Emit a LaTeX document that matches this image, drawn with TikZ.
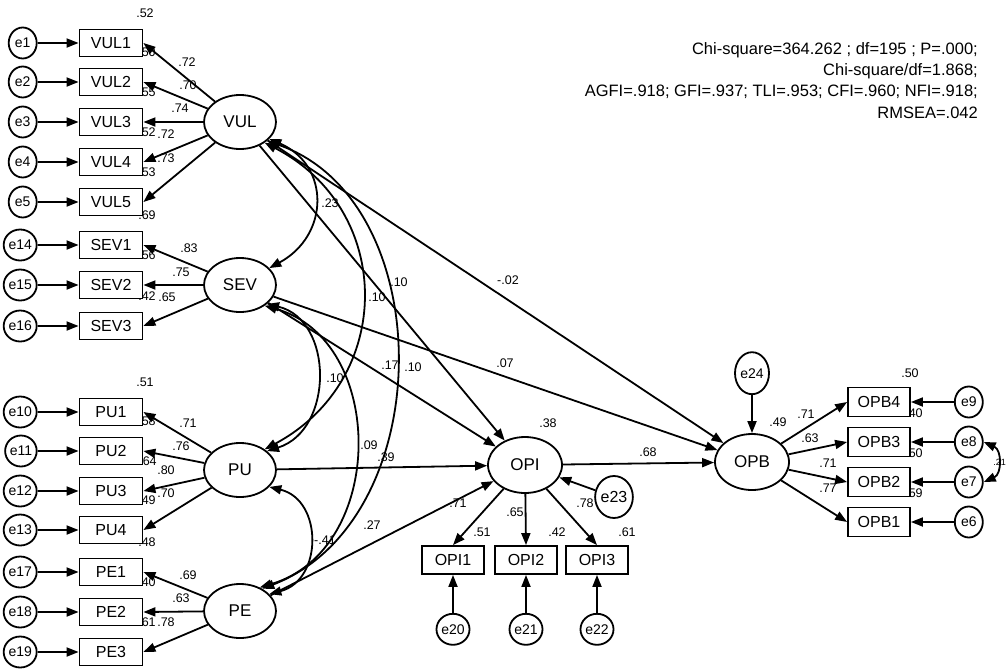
\documentclass[tikz,border=0pt]{standalone}
\usepackage{fontspec}
\setmainfont{Liberation Sans}
\usetikzlibrary{arrows.meta,positioning,shapes.geometric}

\begin{document}
\begin{tikzpicture}[
  x=1pt, y=-1pt,
  lat/.style={draw, ellipse, line width=1.8pt, minimum width=72pt, minimum height=54pt, inner sep=0pt, fill=white, font=\fontsize{17}{17}\selectfont},
  obs/.style={draw, rectangle, line width=1.8pt, minimum width=63pt, minimum height=27pt, inner sep=0pt, fill=white, font=\fontsize{16}{16}\selectfont},
  err/.style={draw, ellipse, line width=1.8pt, minimum width=28pt, minimum height=31pt, inner sep=0pt, fill=white, font=\fontsize{14}{14}\selectfont},
  coef/.style={inner sep=0pt, font=\fontsize{12.5}{12.5}\selectfont},
  gof/.style={anchor=east, inner sep=0pt, font=\fontsize{16.5}{16.5}\selectfont},
  arrow/.style={-{Triangle[length=12pt,width=9pt]}, line width=1.8pt},
  cov/.style={{Triangle[length=12pt,width=9pt]}-{Triangle[length=12pt,width=9pt]}, line width=1.8pt}
]
\useasboundingbox (0,0) rectangle (1007,670);

% fit indices
\node[gof] (gof1) at (978,50) {Chi-square=364.262 ; df=195 ; P=.000;};
\node[gof] (gof2) at (978,71) {Chi-square/df=1.868;};
\node[gof] (gof3) at (978,92) {AGFI=.918; GFI=.937; TLI=.953; CFI=.960; NFI=.918;};
\node[gof] (gof4) at (978,113) {RMSEA=.042};

% squared multiple correlations (partly hidden under the boxes)
\node[coef] (r2vul1) at (145,13) {.52};
\node[coef] (r2vul2) at (147,52) {.50};
\node[coef] (r2vul3) at (147,92) {.55};
\node[coef] (r2vul4) at (147,132) {.52};
\node[coef] (r2vul5) at (147,172) {.53};
\node[coef] (r2sev1) at (147,215) {.69};
\node[coef] (r2sev2) at (147,255) {.56};
\node[coef] (r2sev3) at (147,296) {.42};
\node[coef] (r2pu1) at (145,382) {.51};
\node[coef] (r2pu2) at (147,421) {.58};
\node[coef] (r2pu3) at (148,461) {.64};
\node[coef] (r2pu4) at (147,500) {.49};
\node[coef] (r2pe1) at (147,542) {.48};
\node[coef] (r2pe2) at (147,582) {.40};
\node[coef] (r2pe3) at (147,622) {.61};
\node[coef] (r2opi) at (548,423) {.38};
\node[coef] (r2opi1) at (482,532) {.51};
\node[coef] (r2opi2) at (557,532) {.42};
\node[coef] (r2opi3) at (627,532) {.61};
\node[coef] (r2opb) at (778,422) {.49};
\node[coef] (r2opb4) at (910,373) {.50};
\node[coef] (r2opb3) at (914,413) {.40};
\node[coef] (r2opb2) at (914,453) {.50};
\node[coef] (r2opb1) at (914,493) {.59};

% loadings
\node[coef] (ldvul1) at (187,62) {.72};
\node[coef] (ldvul2) at (188,85) {.70};
\node[coef] (ldvul3) at (180,108) {.74};
\node[coef] (ldvul4) at (166,134) {.72};
\node[coef] (ldvul5) at (166,158) {.73};
\node[coef] (ldsev1) at (189,248) {.83};
\node[coef] (ldsev2) at (181,272) {.75};
\node[coef] (ldsev3) at (167,297) {.65};
\node[coef] (ldpu1) at (188,423) {.71};
\node[coef] (ldpu2) at (181,446) {.76};
\node[coef] (ldpu3) at (166,470) {.80};
\node[coef] (ldpu4) at (166,493) {.70};
\node[coef] (ldpe1) at (188,575) {.69};
\node[coef] (ldpe2) at (181,598) {.63};
\node[coef] (ldpe3) at (166,622) {.78};
\node[coef] (ldopi1) at (458,503) {.71};
\node[coef] (ldopi2) at (515,512) {.65};
\node[coef] (ldopi3) at (585,503) {.78};
\node[coef] (ldopb4) at (806,414) {.71};
\node[coef] (ldopb3) at (810,438) {.63};
\node[coef] (ldopb2) at (828,463) {.71};
\node[coef] (ldopb1) at (828,488) {.77};

% structural paths and correlations
\node[coef] (cvs) at (330,203) {.23};
\node[coef] (cvp) at (377,297) {.10};
\node[coef] (cve) at (399,282) {.10};
\node[coef] (csp) at (335,378) {.10};
\node[coef] (cse) at (369,445) {.09};
\node[coef] (cpe) at (325,540) {-.41};
\node[coef] (pvi) at (413,367) {.10};
\node[coef] (pvb) at (508,280) {-.02};
\node[coef] (psi) at (390,365) {.17};
\node[coef] (psb) at (505,363) {.07};
\node[coef] (pui) at (386,457) {.39};
\node[coef] (pei) at (372,525) {.27};
\node[coef] (pib) at (648,452) {.68};
\node[coef, anchor=east, font=\fontsize{9}{9}\selectfont] (ce78) at (1006,462) {.21};

% latent variables
\node[lat] (vul) at (240,122) {VUL};
\node[lat] (sev) at (240,285) {SEV};
\node[lat] (pu) at (240,470) {PU};
\node[lat] (pe) at (240,611) {PE};
\node[lat, minimum width=74pt, minimum height=56pt] (opi) at (525,465) {OPI};
\node[lat, minimum width=74pt, minimum height=56pt] (opb) at (752,462) {OPB};

% indicators
\node[obs] (vul1) at (111,43) {VUL1};
\node[obs] (vul2) at (111,82) {VUL2};
\node[obs] (vul3) at (111,122) {VUL3};
\node[obs] (vul4) at (111,162) {VUL4};
\node[obs] (vul5) at (111,202) {VUL5};
\node[obs] (sev1) at (111,245) {SEV1};
\node[obs] (sev2) at (111,285) {SEV2};
\node[obs] (sev3) at (111,326) {SEV3};
\node[obs] (pu1) at (111,412) {PU1};
\node[obs] (pu2) at (111,451) {PU2};
\node[obs] (pu3) at (111,491) {PU3};
\node[obs] (pu4) at (111,530) {PU4};
\node[obs] (pe1) at (111,572) {PE1};
\node[obs] (pe2) at (111,612) {PE2};
\node[obs] (pe3) at (111,652) {PE3};
\node[obs, minimum width=62pt, minimum height=28pt] (opi1) at (453,560) {OPI1};
\node[obs, minimum width=62pt, minimum height=28pt] (opi2) at (526,560) {OPI2};
\node[obs, minimum width=62pt, minimum height=28pt] (opi3) at (597,560) {OPI3};
\node[obs, minimum width=62pt, minimum height=29pt] (opb4) at (879,402) {OPB4};
\node[obs, minimum width=62pt, minimum height=29pt] (opb3) at (879,442) {OPB3};
\node[obs, minimum width=62pt, minimum height=29pt] (opb2) at (879,482) {OPB2};
\node[obs, minimum width=62pt, minimum height=29pt] (opb1) at (879,522) {OPB1};

% error terms
\node[err, left=41pt of vul1] (e1) {e1};
\node[err, left=41pt of vul2] (e2) {e2};
\node[err, left=41pt of vul3] (e3) {e3};
\node[err, left=41pt of vul4] (e4) {e4};
\node[err, left=41pt of vul5] (e5) {e5};
\node[err, left=41pt of sev1] (e14) {e14};
\node[err, left=41pt of sev2] (e15) {e15};
\node[err, left=41pt of sev3] (e16) {e16};
\node[err, left=41pt of pu1] (e10) {e10};
\node[err, left=41pt of pu2] (e11) {e11};
\node[err, left=41pt of pu3] (e12) {e12};
\node[err, left=41pt of pu4] (e13) {e13};
\node[err, left=41pt of pe1] (e17) {e17};
\node[err, left=41pt of pe2] (e18) {e18};
\node[err, left=41pt of pe3] (e19) {e19};
\node[err, below=38pt of opi1] (e20) {e20};
\node[err, below=38pt of opi2] (e21) {e21};
\node[err, below=38pt of opi3] (e22) {e22};
\node[err, minimum width=36pt, minimum height=42pt, font=\fontsize{16}{16}\selectfont] (e23) at (614,497) {e23};
\node[err, minimum width=34pt, minimum height=42pt, above=38pt of opb] (e24) {e24};
\node[err, right=43pt of opb4] (e9) {e9};
\node[err, right=43pt of opb3] (e8) {e8};
\node[err, right=43pt of opb2] (e7) {e7};
\node[err, right=43pt of opb1] (e6) {e6};

% errors into indicators
\draw[arrow] (e1) -- (vul1);
\draw[arrow] (e2) -- (vul2);
\draw[arrow] (e3) -- (vul3);
\draw[arrow] (e4) -- (vul4);
\draw[arrow] (e5) -- (vul5);
\draw[arrow] (e14) -- (sev1);
\draw[arrow] (e15) -- (sev2);
\draw[arrow] (e16) -- (sev3);
\draw[arrow] (e10) -- (pu1);
\draw[arrow] (e11) -- (pu2);
\draw[arrow] (e12) -- (pu3);
\draw[arrow] (e13) -- (pu4);
\draw[arrow] (e17) -- (pe1);
\draw[arrow] (e18) -- (pe2);
\draw[arrow] (e19) -- (pe3);
\draw[arrow] (e20) -- (opi1);
\draw[arrow] (e21) -- (opi2);
\draw[arrow] (e22) -- (opi3);
\draw[arrow] (e9) -- (opb4);
\draw[arrow] (e8) -- (opb3);
\draw[arrow] (e7) -- (opb2);
\draw[arrow] (e6) -- (opb1);
\draw[arrow] (e23) -- (opi);
\draw[arrow] (e24) -- (opb);
\draw[cov] (e8.east) .. controls (1002,450) and (1002,474) .. (e7.east);

% latents onto indicators
\draw[arrow] (vul) -- (vul1.east);
\draw[arrow] (vul) -- (vul2.east);
\draw[arrow] (vul) -- (vul3.east);
\draw[arrow] (vul) -- (vul4.east);
\draw[arrow] (vul) -- (vul5.east);
\draw[arrow] (sev) -- (sev1.east);
\draw[arrow] (sev) -- (sev2.east);
\draw[arrow] (sev) -- (sev3.east);
\draw[arrow] (pu) -- (pu1.east);
\draw[arrow] (pu) -- (pu2.east);
\draw[arrow] (pu) -- (pu3.east);
\draw[arrow] (pu) -- (pu4.east);
\draw[arrow] (pe) -- (pe1.east);
\draw[arrow] (pe) -- (pe2.east);
\draw[arrow] (pe) -- (pe3.east);
\draw[arrow] (opi) -- (opi1.north);
\draw[arrow] (opi) -- (opi2.north);
\draw[arrow] (opi) -- (opi3.north);
\draw[arrow] (opb) -- (opb4.west);
\draw[arrow] (opb) -- (opb3.west);
\draw[arrow] (opb) -- (opb2.west);
\draw[arrow] (opb) -- (opb1.west);

% correlations among exogenous latents
\draw[cov] (vul.-30) .. controls (330,165) and (330,235) .. (sev.30);
\draw[cov] (vul.-40) .. controls (395,210) and (395,380) .. (pu.40);
\draw[cov] (vul.-35) .. controls (440,200) and (440,520) .. (pe.45);
\draw[cov] (sev.-35) .. controls (334,320) and (334,430) .. (pu.35);
\draw[cov] (sev.-40) .. controls (387,340) and (387,550) .. (pe.50);
\draw[cov] (pu.-30) .. controls (323,500) and (323,580) .. (pe.30);

% structural paths
\draw[arrow] (vul) -- (opi);
\draw[arrow] (vul) -- (opb);
\draw[arrow] (sev) -- (opi);
\draw[arrow] (sev) -- (opb);
\draw[arrow] (pu) -- (opi);
\draw[arrow] (pe) -- (opi);
\draw[arrow] (opi) -- (opb);
\end{tikzpicture}
\end{document}
